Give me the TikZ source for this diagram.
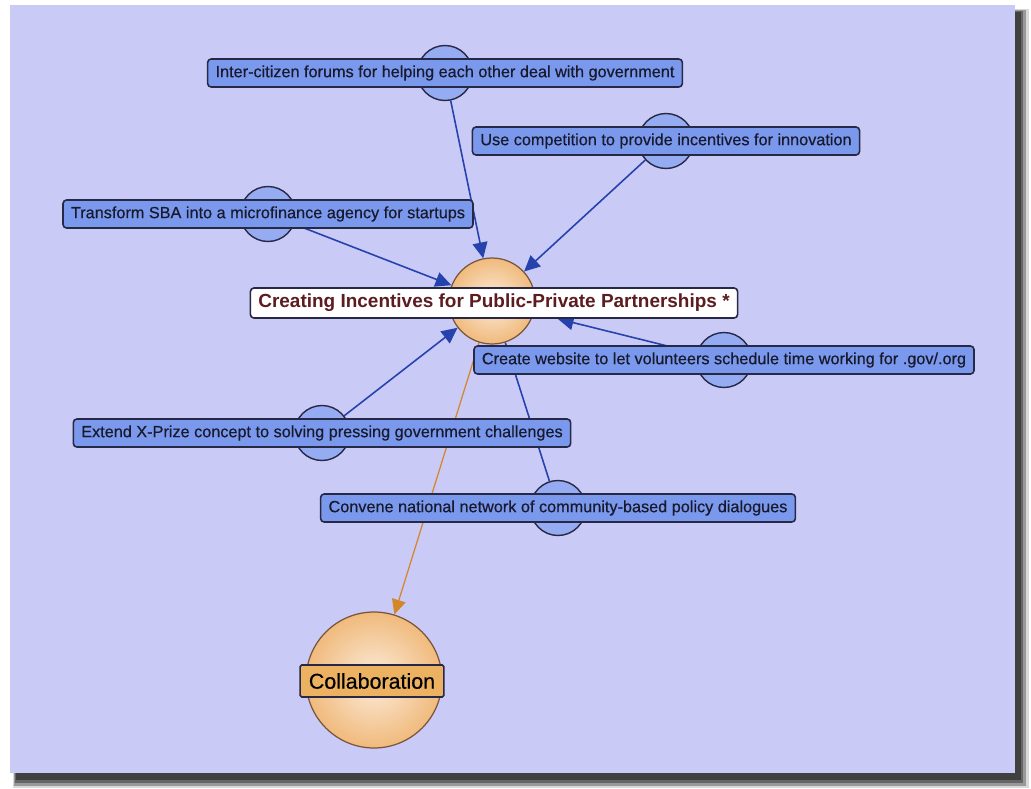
\documentclass[tikz,border=0pt]{standalone}
\usepackage{fontspec}
\setmainfont{Liberation Sans}
\newfontfamily\heavysans[FakeBold=0.45]{Liberation Sans}
\usetikzlibrary{arrows.meta,backgrounds}

\definecolor{panel}{RGB}{202,202,246}
\definecolor{ideafill}{RGB}{122,152,236}
\definecolor{ballblue}{RGB}{150,172,242}
\definecolor{ideaedge}{RGB}{38,40,70}
\definecolor{ideatext}{RGB}{25,25,45}
\definecolor{linkblue}{RGB}{38,66,172}
\definecolor{peach}{RGB}{240,186,124}
\definecolor{peachlight}{RGB}{252,236,220}
\definecolor{balledge}{RGB}{120,84,60}
\definecolor{hubtext}{RGB}{92,28,32}
\definecolor{tagorange}{RGB}{236,178,98}
\definecolor{leadorange}{RGB}{212,134,42}

\begin{document}
\begin{tikzpicture}[x=0.02cm, y=-0.02cm,
    idea/.style={draw=ideaedge, line width=0.9pt, fill=ideafill, rounded corners=2pt,
      inner xsep=4.5pt, inner ysep=0pt, minimum height=0.56cm,
      font=\heavysans\fontsize{9.25}{11}\selectfont, text=ideatext},
    ideaball/.style={circle, draw=ideaedge, line width=0.8pt, fill=ballblue,
      minimum size=1.1cm, inner sep=0pt},
    bigball/.style={circle, draw=balledge, line width=0.7pt,
      inner color=peachlight, outer color=peach, inner sep=0pt},
    hubtag/.style={draw=ideaedge, line width=0.9pt, fill=white, rounded corners=2pt,
      inner xsep=4.5pt, inner ysep=0pt, minimum height=0.6cm,
      font=\fontsize{10.8}{13}\selectfont\bfseries, text=hubtext},
    goaltag/.style={draw=ideaedge, line width=0.9pt, fill=tagorange, rounded corners=1pt,
      inner xsep=5pt, inner ysep=0pt, minimum height=0.64cm,
      font=\heavysans\fontsize{12.2}{14}\selectfont, text=black},
    link/.style={linkblue, line width=0.9pt, -{Triangle[length=9pt,width=8.5pt]}},
    tie/.style={linkblue, line width=0.9pt},
    lead/.style={leadorange, line width=0.7pt, -{Triangle[length=8.5pt,width=8pt]}}
  ]
  \useasboundingbox (0,0) rectangle (1031,788);

  % Panel with drop shadow
  \begin{scope}[on background layer]
    \fill[black!15] (13,9) rectangle (1029,788);
    \fill[black!40] (14,10) rectangle (1026,786);
    \fill[black!60] (15,11) rectangle (1023,783);
    \fill[black!75] (16,12) rectangle (1021,780);
    \fill[panel] (10,5) rectangle (1015,773);
  \end{scope}

  % Idea nodes (ball under label)
  \node[ideaball] (forumsball) at (445,73) {};
  \node[idea] (forums) at (445,73) {Inter-citizen forums for helping each other deal with government};

  \node[ideaball] (contestball) at (666,141) {};
  \node[idea] (contest) at (666,141) {Use competition to provide incentives for innovation};

  \node[ideaball] (sbaball) at (268,214) {};
  \node[idea] (sba) at (268,214) {Transform SBA into a microfinance agency for startups};

  \node[ideaball] (websiteball) at (724,360) {};
  \node[idea] (website) at (724,360) {Create website to let volunteers schedule time working for .gov/.org};

  \node[ideaball] (xprizeball) at (322,433) {};
  \node[idea] (xprize) at (322,433) {Extend X-Prize concept to solving pressing government challenges};

  \node[ideaball] (dialogball) at (558,508) {};
  \node[idea] (dialog) at (558,508) {Convene national network of community-based policy dialogues};

  % Topic
  \node[bigball, minimum size=1.72cm] (hubball) at (492,301) {};
  \node[hubtag] (hub) at (494,303) {Creating Incentives for Public-Private Partnerships *};

  % Goal
  \node[bigball, minimum size=2.72cm] (goalball) at (374,680) {};
  \node[goaltag] (goal) at (372,681) {Collaboration};

  % Connectors
  \begin{scope}[on background layer]
    \draw[link] (forumsball) -- (hubball);
    \draw[link] (contestball) -- (hubball);
    \draw[link] (sbaball) -- (hubball);
    \draw[link] (websiteball) -- (hub);
    \draw[link] (xprizeball) -- (hubball);
    \draw[tie] (dialogball) -- (hubball);
    \draw[lead] (hubball) -- (goalball);
  \end{scope}
\end{tikzpicture}
\end{document}
